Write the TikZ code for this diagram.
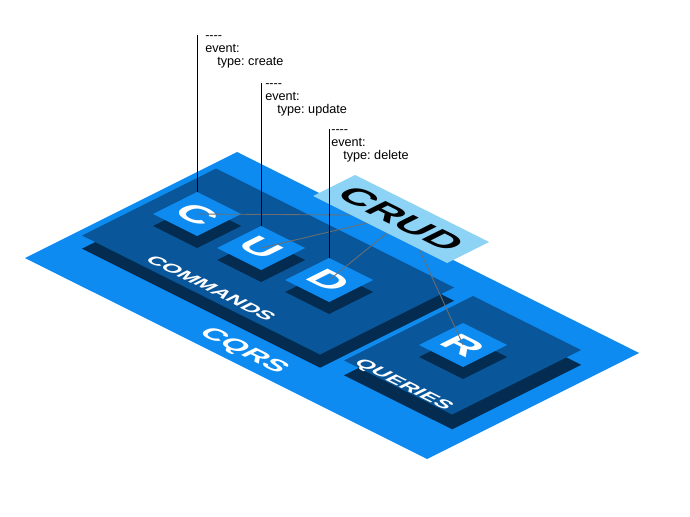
\documentclass[tikz,border=0pt]{standalone}
\usepackage{fontspec}
\setmainfont{Liberation Sans}
\usepackage{tikz}
\definecolor{QBase}{HTML}{0D8BF0}
\definecolor{QDeep}{HTML}{09579A}
\definecolor{QShade}{HTML}{042C50}
\definecolor{QPale}{HTML}{8DD3F6}
\definecolor{QWire}{HTML}{6E6E6E}
\tikzset{
  flat/.style={cm={1.162,-0.581,0.894,0.447,(0,0)},inner sep=0pt,text=white},
  wire/.style={QWire,line width=0.6pt},
  pin/.style={black,line width=0.55pt},
  yaml/.style={anchor=north west,align=left,inner sep=0pt,font=\fontsize{9}{9.3}\selectfont\frenchspacing}
}

\begin{document}
\begin{tikzpicture}[x=0.025cm,y=-0.025cm]
\fill[white] (0,0) rectangle (690,516);
\path[use as bounding box] (0,0) rectangle (690,516);
\begin{scope}[shift={(25,258)},x={(0.05cm,-0.025cm)},y={(0.05cm,0.025cm)}]
% base plane
\fill[QBase] (0,0) -- (201,0) -- (201,106) -- (0,106) -- cycle;
% commands slab
\fill[QShade,yshift=-0.33cm] (3,25.5) -- (122,25.5) -- (122,92.5) -- (3,92.5) -- cycle;
\fill[QDeep] (3,25.5) -- (122,25.5) -- (122,92.5) -- (3,92.5) -- cycle;
% queries slab
\fill[QShade,yshift=-0.37cm] (131,28.5) -- (185,28.5) -- (185,93) -- (131,93) -- cycle;
\fill[QDeep] (131,28.5) -- (185,28.5) -- (185,93) -- (131,93) -- cycle;
% tiles
\fill[QShade,yshift=-0.3cm] (10,54) -- (32,54) -- (32,76) -- (10,76) -- cycle;
\fill[QBase] (10,54) -- (32,54) -- (32,76) -- (10,76) -- cycle;
\fill[QShade,yshift=-0.3cm] (43,53) -- (65,53) -- (65,75) -- (43,75) -- cycle;
\fill[QBase] (43,53) -- (65,53) -- (65,75) -- (43,75) -- cycle;
\fill[QShade,yshift=-0.3cm] (76,54) -- (98,54) -- (98,76) -- (76,76) -- cycle;
\fill[QBase] (76,54) -- (98,54) -- (98,76) -- (76,76) -- cycle;
\fill[QShade,yshift=-0.3cm] (142,55) -- (164,55) -- (164,77) -- (142,77) -- cycle;
\fill[QBase] (142,55) -- (164,55) -- (164,77) -- (142,77) -- cycle;
\coordinate (tCtop) at (10,76);
\coordinate (tUtop) at (43,75);
\coordinate (tDtop) at (76,76);
% letters and labels
\node[flat,font=\bfseries\fontsize{25}{25}\selectfont] (lC) at (21,65) {C};
\node[flat,font=\bfseries\fontsize{25}{25}\selectfont] (lU) at (54,64) {U};
\node[flat,font=\bfseries\fontsize{25}{25}\selectfont] (lD) at (87,65) {D};
\node[flat,font=\bfseries\fontsize{25}{25}\selectfont] (lR) at (153,66) {R};
\node[flat,font=\bfseries\fontsize{12.5}{12.5}\selectfont] (cmdlabel) at (61.5,31.5) {COMMANDS};
\node[flat,font=\bfseries\fontsize{12.5}{12.5}\selectfont] (qrylabel) at (158,31) {QUERIES};
\node[flat,font=\bfseries\fontsize{17}{17}\selectfont] (cqrslabel) at (101,8) {CQRS};
% wires from the CRUD card
\coordinate (crudC) at (60,103);
\coordinate (crudU) at (68,103);
\coordinate (crudD) at (78,103);
\coordinate (crudR) at (94,103);
\draw[wire] (crudC) -- (lC.center);
\draw[wire] (crudU) -- (lU.center);
\draw[wire] (crudD) -- (lD.center);
\draw[wire] (crudR) -- (lR.center);
% CRUD card
\fill[QPale] (41,103) -- (108,103) -- (108,124) -- (41,124) -- cycle;
\node[flat,text=black,font=\bfseries\fontsize{24}{24}\selectfont] (crudlabel) at (74.5,113.5) {CRUD};
\end{scope}
% event notes
\node[yaml] (evCreate) at (205,35) {-{}-{}-{}-\\event:\\\hspace*{0.3cm}type: create};
\node[yaml] (evUpdate) at (265,83) {-{}-{}-{}-\\event:\\\hspace*{0.3cm}type: update};
\node[yaml] (evDelete) at (331,129) {-{}-{}-{}-\\event:\\\hspace*{0.3cm}type: delete};
\draw[pin] (tCtop) -- (tCtop |- evCreate.north);
\draw[pin] (tUtop) -- (tUtop |- evUpdate.north);
\draw[pin] (tDtop) -- (tDtop |- evDelete.north);
\end{tikzpicture}
\end{document}
